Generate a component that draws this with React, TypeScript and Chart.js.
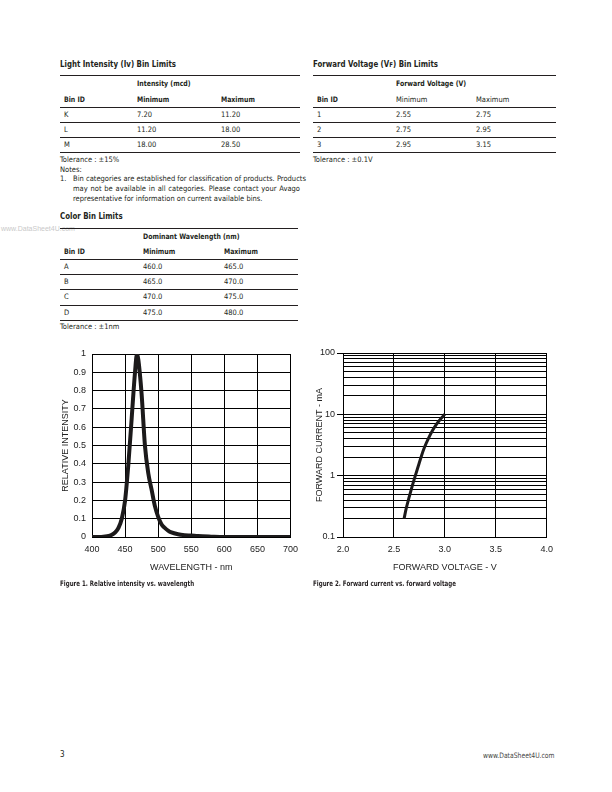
import React, { useEffect, useRef } from 'react';
import { Chart, registerables } from 'chart.js';
Chart.register(...registerables);

// ---------- Data ----------
const wavelengthNm = [400, 410, 420, 425, 430, 435, 440, 445, 450, 455, 460, 465, 468, 470, 475, 480, 485, 490, 495, 500, 505, 510, 515, 520, 530, 540, 550, 560, 580, 600, 650, 700];
const relIntensity = [0, 0, 0.003, 0.006, 0.012, 0.025, 0.05, 0.1, 0.2, 0.4, 0.65, 0.9, 1.0, 0.97, 0.78, 0.5, 0.35, 0.26, 0.17, 0.11, 0.07, 0.05, 0.035, 0.025, 0.015, 0.01, 0.008, 0.005, 0.002, 0, 0, 0];
const wavelengthTicks = [400, 450, 500, 550, 600, 650, 700];
const intensityTicks = [0, 0.1, 0.2, 0.3, 0.4, 0.5, 0.6, 0.7, 0.8, 0.9, 1];

const fwdVoltage = [2.6, 2.62, 2.65, 2.68, 2.71, 2.74, 2.77, 2.8, 2.84, 2.88, 2.92, 2.96, 3.0];
const fwdCurrent = [0.2, 0.29, 0.45, 0.68, 1.0, 1.45, 2.1, 2.9, 4.1, 5.5, 7.0, 8.5, 10];
const voltageTicks = [2.0, 2.5, 3.0, 3.5, 4.0];
const currentGrid = [0.1, 0.2, 0.3, 0.4, 0.5, 0.6, 0.7, 0.8, 0.9, 1, 2, 3, 4, 5, 6, 7, 8, 9, 10, 20, 30, 40, 50, 60, 70, 80, 90, 100];
const currentLabels = [0.1, 1, 10, 100];

const intensityRows = [['K', '7.20', '11.20'], ['L', '11.20', '18.00'], ['M', '18.00', '28.50']];
const voltageRows = [['1', '2.55', '2.75'], ['2', '2.75', '2.95'], ['3', '2.95', '3.15']];
const colorRows = [['A', '460.0', '465.0'], ['B', '465.0', '470.0'], ['C', '470.0', '475.0'], ['D', '475.0', '480.0']];

// ---------- Styles ----------
const NF = '"Liberation Sans Narrow", "DejaVu Sans Condensed", "Liberation Sans", sans-serif';
const AF = '"Liberation Sans", Arial, sans-serif';

type TProps = { x: number; y: number; children: React.ReactNode; size?: number; bold?: boolean; color?: string; w?: number; justify?: boolean; family?: string; sx?: number };
const T = ({ x, y, children, size = 7.5, bold = false, color = '#231f20', w, justify = false, family = NF, sx = 1 }: TProps) => (
  <div
    style={{
      position: 'absolute', left: x, top: y - 6, height: 12, lineHeight: '12px', fontSize: size,
      fontWeight: bold ? 700 : 400, color, fontFamily: family, whiteSpace: 'nowrap',
      width: w, textAlign: justify ? 'justify' : 'left', textAlignLast: justify ? 'justify' : 'auto',
      transform: sx !== 1 ? `scaleX(${sx})` : undefined, transformOrigin: 'left center',
    } as React.CSSProperties}
  >
    {children}
  </div>
);

const Rule = ({ x1, x2, y, t = 1, color = '#231f20' }: { x1: number; x2: number; y: number; t?: number; color?: string }) => (
  <div style={{ position: 'absolute', left: x1, top: y - t / 2, width: x2 - x1, height: t, background: color }} />
);

const tickFont = { family: AF, size: 9 };

function WavelengthChart() {
  const ref = useRef<HTMLCanvasElement>(null);
  useEffect(() => {
    if (!ref.current) return;
    const chart = new Chart(ref.current, {
      type: 'line',
      data: {
        datasets: [{
          data: wavelengthNm.map((x, i) => ({ x, y: relIntensity[i] })),
          borderColor: '#1c1a1b', borderWidth: 4, pointRadius: 0, cubicInterpolationMode: 'monotone', fill: false,
        }],
      },
      options: {
        animation: false, responsive: false, maintainAspectRatio: false, devicePixelRatio: 1,
        layout: { padding: { top: 14, right: 11, left: 0, bottom: 0 } },
        plugins: { legend: { display: false }, tooltip: { enabled: false } },
        scales: {
          x: {
            type: 'linear', min: 400, max: 700,
            afterBuildTicks: (s: any) => { s.ticks = wavelengthTicks.map((v) => ({ value: v })); },
            afterFit: (s: any) => { s.height = 43; },
            ticks: { color: '#222', font: tickFont, padding: 7, maxRotation: 0, callback: (v: any) => String(v) },
            grid: { color: '#000', lineWidth: 1, drawTicks: false },
            border: { color: '#000', width: 1 },
            title: { display: true, text: 'WAVELENGTH - nm', color: '#222', font: tickFont, padding: { top: 0, bottom: 6.6 } },
          },
          y: {
            type: 'linear', min: 0, max: 1,
            afterBuildTicks: (s: any) => { s.ticks = intensityTicks.map((v) => ({ value: v })); },
            afterFit: (s: any) => { s.width = 37; },
            ticks: { color: '#222', font: tickFont, padding: 6, callback: (v: any) => String(Math.round(Number(v) * 10) / 10) },
            grid: { color: '#000', lineWidth: 1, drawTicks: false },
            border: { color: '#000', width: 1 },
            title: { display: true, text: 'RELATIVE INTENSITY', color: '#222', font: tickFont, padding: { top: 5.6, bottom: 0 } },
          },
        },
      },
    } as any);
    return () => chart.destroy();
  }, []);
  return <canvas ref={ref} width={250} height={240} style={{ position: 'absolute', left: 55, top: 340, width: 250, height: 240 }} />;
}

function ForwardChart() {
  const ref = useRef<HTMLCanvasElement>(null);
  useEffect(() => {
    if (!ref.current) return;
    const isMajor = (v: number) => currentLabels.some((m) => Math.abs(m - v) < 1e-9);
    const chart = new Chart(ref.current, {
      type: 'line',
      data: {
        datasets: [{
          data: fwdVoltage.map((x, i) => ({ x, y: fwdCurrent[i] })),
          borderColor: '#1c1a1b', borderWidth: 3, pointRadius: 0, cubicInterpolationMode: 'monotone', fill: false,
        }],
      },
      options: {
        animation: false, responsive: false, maintainAspectRatio: false, devicePixelRatio: 1,
        layout: { padding: { top: 13, right: 10, left: 0, bottom: 0 } },
        plugins: { legend: { display: false }, tooltip: { enabled: false } },
        scales: {
          x: {
            type: 'linear', min: 2.0, max: 4.0,
            afterBuildTicks: (s: any) => { s.ticks = voltageTicks.map((v) => ({ value: v })); },
            afterFit: (s: any) => { s.height = 43; },
            ticks: { color: '#222', font: tickFont, padding: 7, maxRotation: 0, callback: (v: any) => Number(v).toFixed(1) },
            grid: { color: '#000', lineWidth: 1, drawTicks: false },
            border: { color: '#000', width: 1 },
            title: { display: true, text: 'FORWARD VOLTAGE - V', color: '#222', font: tickFont, padding: { top: 0, bottom: 6.6 } },
          },
          y: {
            type: 'logarithmic', min: 0.1, max: 100,
            afterBuildTicks: (s: any) => { s.ticks = currentGrid.map((v) => ({ value: v })); },
            afterFit: (s: any) => { s.width = 38; },
            ticks: { color: '#222', font: tickFont, padding: 2, autoSkip: false, callback: (v: any) => (isMajor(Number(v)) ? String(v) : '') },
            grid: {
              color: '#000', lineWidth: 1, drawTicks: true, tickLength: 6,
              tickColor: (c: any) => (c.tick && isMajor(c.tick.value) ? '#000' : 'rgba(0,0,0,0)'),
            },
            border: { color: '#000', width: 1 },
            title: { display: true, text: 'FORWARD CURRENT - mA', color: '#222', font: tickFont, padding: { top: 9.6, bottom: 0 } },
          },
        },
      },
    } as any);
    return () => chart.destroy();
  }, []);
  return <canvas ref={ref} width={255} height={240} style={{ position: 'absolute', left: 305, top: 340, width: 255, height: 240 }} />;
}

export default function App() {
  const rowYs3 = [115, 130, 145];
  const ruleYs3 = [122.5, 137.5, 152.5];
  const colorRowYs = [267, 282, 297, 312.5];
  const colorRuleYs = [274.5, 289.5, 305, 320];
  return (
    <div style={{ position: 'absolute', left: 0, top: 0, width: 612, height: 792, background: '#fff', overflow: 'hidden' }}>
      {/* Light intensity table */}
      <T x={60} y={64} size={8.5} bold sx={0.92}>Light Intensity (Iv) Bin Limits</T>
      <Rule x1={60} x2={300} y={75.5} t={1.3} />
      <T x={137} y={84} bold sx={0.92}>Intensity (mcd)</T>
      <T x={64} y={100} bold sx={0.92}>Bin ID</T>
      <T x={137} y={100} bold sx={0.92}>Minimum</T>
      <T x={221} y={100} bold sx={0.92}>Maximum</T>
      <Rule x1={60} x2={300} y={107} />
      {intensityRows.map((r, i) => (
        <React.Fragment key={'i' + i}>
          <T x={64} y={rowYs3[i]}>{r[0]}</T>
          <T x={137} y={rowYs3[i]}>{r[1]}</T>
          <T x={221} y={rowYs3[i]}>{r[2]}</T>
          <Rule x1={60} x2={300} y={ruleYs3[i]} t={0.8} />
        </React.Fragment>
      ))}
      <T x={60} y={160}>Tolerance : ±15%</T>
      <T x={60} y={170}>Notes:</T>
      <T x={60} y={179}>1.</T>
      <T x={73} y={179} w={227} justify>Bin categories are established for classification of products. Products</T>
      <T x={73} y={189} w={227} justify>may not be available in all categories. Please contact your Avago</T>
      <T x={73} y={199}>representative for information on current available bins.</T>

      {/* Forward voltage table */}
      <T x={313} y={64} size={8.5} bold sx={0.92}>Forward Voltage (V<span style={{ fontSize: 6.5 }}>F</span>) Bin Limits</T>
      <Rule x1={313} x2={556} y={75.5} t={1.3} />
      <T x={396} y={84} bold sx={0.92}>Forward Voltage (V)</T>
      <T x={317} y={100} bold sx={0.92}>Bin ID</T>
      <T x={396} y={100}>Minimum</T>
      <T x={476} y={100}>Maximum</T>
      <Rule x1={313} x2={556} y={107} />
      {voltageRows.map((r, i) => (
        <React.Fragment key={'v' + i}>
          <T x={317} y={rowYs3[i]}>{r[0]}</T>
          <T x={396} y={rowYs3[i]}>{r[1]}</T>
          <T x={476} y={rowYs3[i]}>{r[2]}</T>
          <Rule x1={313} x2={556} y={ruleYs3[i]} t={0.8} />
        </React.Fragment>
      ))}
      <T x={313} y={160}>Tolerance : ±0.1V</T>

      {/* Watermark */}
      <T x={1} y={229} size={7} color="#c9c9c9" family={AF}>www.DataSheet4U.com</T>

      {/* Color bin table */}
      <T x={60} y={216} size={8.5} bold sx={0.92}>Color Bin Limits</T>
      <Rule x1={60} x2={298} y={228.5} t={1.3} />
      <T x={143} y={237} bold sx={0.92}>Dominant Wavelength (nm)</T>
      <T x={64} y={252} bold sx={0.92}>Bin ID</T>
      <T x={143} y={252} bold sx={0.92}>Minimum</T>
      <T x={224} y={252} bold sx={0.92}>Maximum</T>
      <Rule x1={60} x2={298} y={259} />
      {colorRows.map((r, i) => (
        <React.Fragment key={'c' + i}>
          <T x={64} y={colorRowYs[i]}>{r[0]}</T>
          <T x={143} y={colorRowYs[i]}>{r[1]}</T>
          <T x={224} y={colorRowYs[i]}>{r[2]}</T>
          <Rule x1={60} x2={298} y={colorRuleYs[i]} t={0.8} />
        </React.Fragment>
      ))}
      <T x={60} y={327}>Tolerance : ±1nm</T>

      {/* Charts */}
      <WavelengthChart />
      <ForwardChart />
      <T x={60} y={584} size={7.5} bold sx={0.82}>Figure 1. Relative intensity vs. wavelength</T>
      <T x={313} y={584} size={7.5} bold sx={0.82}>Figure 2. Forward current vs. forward voltage</T>

      {/* Footer */}
      <T x={60} y={755} size={8}>3</T>
      <T x={483} y={756} size={7.5} color="#444" sx={0.9}>www.DataSheet4U.com</T>
    </div>
  );
}
